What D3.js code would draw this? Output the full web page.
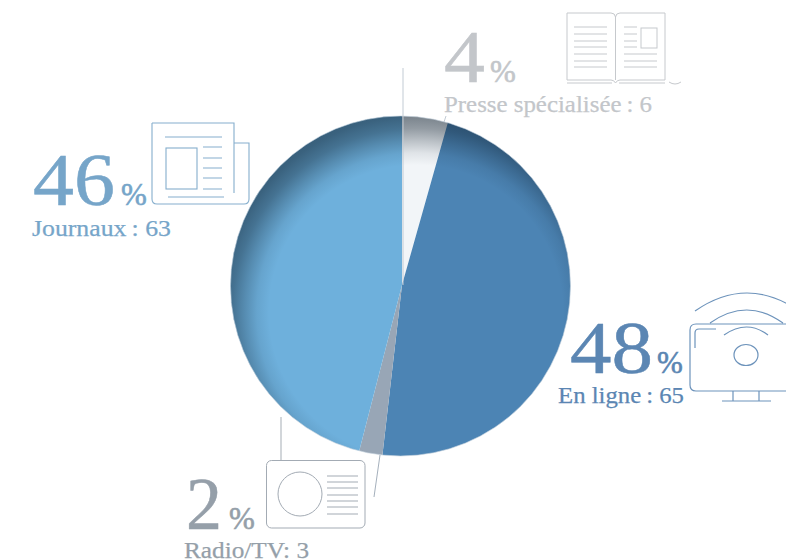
<!DOCTYPE html>
<html>
<head>
<meta charset="utf-8">
<script src="https://cdn.jsdelivr.net/npm/d3@7"></script>
<style>
html, body { margin: 0; padding: 0; background: #fff; overflow: hidden; }
text { font-family: "Liberation Serif", serif; }
</style>
</head>
<body>
<script>
var w = 786;
var h = 560;

var labels = ["Presse spécialisée\u2009: 6", "En ligne\u2009: 65", "Radio/TV: 3", "Journaux\u2009: 63"];
var counts = [6, 65, 3, 63];
var percents = ["4", "48", "2", "46"];

var sliceColors = ["#f2f5f8", "#4c84b4", "#98a6b6", "#6eb0dc"];
var textColors = ["#c3c6ca", "#5b86b3", "#959fa9", "#76a5c9"];

// x of number, width of number, x of %, x of label, width of label, baseline of number, baseline of label
var labelPos = [
    [444, 41, 490, 444, 208, 82, 112],
    [570, 83, 657, 558, 126, 373, 403],
    [186, 36, 229, 184, 125, 529, 558],
    [33, 82, 121, 32, 139, 205, 236]
];

var cx = 400.5, cy = 286, r = 170; // the disc
var vx = 402, vy = 285;            // where the slices meet

var svg = d3.select("body").append("svg").attr("width", w).attr("height", h).style("display", "block");

var defs = svg.append("defs");
defs.append("clipPath").attr("id", "disc")
    .append("circle").attr("cx", cx).attr("cy", cy).attr("r", r);

var shade = defs.append("radialGradient")
    .attr("id", "shade")
    .attr("gradientUnits", "userSpaceOnUse")
    .attr("cx", 416).attr("cy", 312).attr("r", 204);
[[0.72, 0], [0.78, 0.08], [0.84, 0.24], [0.9, 0.41], [0.96, 0.52], [1, 0.55]].forEach(s => {
    shade.append("stop").attr("offset", s[0]).attr("stop-color", "#0a1a28").attr("stop-opacity", s[1]);
});

var pie = d3.pie().sort(null).value(d => d);
var arc = d3.arc().innerRadius(0).outerRadius(r + 8);

var pieG = svg.append("g").attr("clip-path", "url(#disc)")
    .append("g").attr("transform", "translate(" + vx + "," + vy + ")");

pieG.selectAll("path")
    .data(pie(counts)).enter()
    .append("path")
    .attr("d", arc)
    .attr("fill", (d, i) => sliceColors[i]);

svg.append("circle") // the shadow on top of the slices
    .attr("cx", cx).attr("cy", cy).attr("r", r)
    .attr("fill", "url(#shade)")
    .attr("stroke", "#c3d0dc")
    .attr("stroke-width", 0.6);

// leader lines
var leaders = [
    [403, 68, 403, 285, "#c2cbd4"],
    [380, 455, 374, 497, "#a5b0bc"],
    [444, 122, 446, 116, "#c2cbd4"],
    [281, 417, 281, 461, "#a5adb5"]
];
svg.selectAll("line.leader")
    .data(leaders).enter()
    .append("line")
    .attr("class", "leader")
    .attr("x1", d => d[0]).attr("y1", d => d[1])
    .attr("x2", d => d[2]).attr("y2", d => d[3])
    .attr("stroke", d => d[4])
    .attr("stroke-width", 1);

// text
percents.forEach((p, i) => {
    var pos = labelPos[i];
    svg.append("text").text(p)
        .attr("x", pos[0]).attr("y", pos[5])
        .attr("font-size", 75)
        .attr("textLength", pos[1])
        .attr("lengthAdjust", "spacingAndGlyphs")
        .attr("fill", textColors[i])
        .attr("stroke", textColors[i])
        .attr("stroke-width", 0.5);
    svg.append("text").text("%")
        .attr("x", pos[2]).attr("y", pos[5])
        .attr("font-size", 31)
        .attr("fill", textColors[i])
        .attr("stroke", textColors[i])
        .attr("stroke-width", 0.6);
    svg.append("text").text(labels[i])
        .attr("x", pos[3]).attr("y", pos[6])
        .attr("font-size", 24)
        .attr("textLength", pos[4])
        .attr("lengthAdjust", "spacingAndGlyphs")
        .attr("fill", textColors[i])
        .attr("stroke", textColors[i])
        .attr("stroke-width", 0.25);
});

function hlines(x1, x2, ys) {
    return ys.map(y => "M" + x1 + "," + y + "H" + x2).join("");
}

function icon(color, sw) {
    return svg.append("g")
        .attr("fill", "none")
        .attr("stroke", color)
        .attr("stroke-width", sw);
}

// book
var book = icon("#c6c9cd", 1);
book.append("path").attr("d",
    "M567,13H611Q615,13 615.5,17Q616,13 620,13H665V80H620Q617,80 615.5,83Q614,80 611,80H567Z" +
    "M567,83H612M619,83H665M615.5,17V80" +
    "M669,82Q675,86 681,82" +
    hlines(574, 607, [27, 34, 41, 47, 54, 61, 67]) +
    hlines(624, 637, [27, 34, 41, 47]) +
    hlines(624, 657, [54, 61, 67]));
book.append("rect").attr("x", 641).attr("y", 28).attr("width", 16).attr("height", 20);

// newspaper
var paper = icon("#85aecd", 1.1);
paper.append("path").attr("d",
    "M152,123H234V193M234,143H249V199Q249,204 244,204H157Q152,204 152,199V123" +
    "M165,137H222M168,197H224" +
    hlines(203, 222, [147, 158, 168, 178, 189]));
paper.append("rect").attr("x", 166).attr("y", 148).attr("width", 31).attr("height", 41);

// screen
var tv = icon("#6d93bb", 1.2);
tv.append("path").attr("d",
    "M800,324H696Q690,324 690,330V385Q690,391 696,391H800" +
    "M695,348V333Q695,329 699,329H716" +
    "M695,311Q747,275 799,311" +
    "M710,323Q747,297 783,323" +
    "M724,335Q747,319 768,335" +
    "M733,391V401M759,391V401M722,401H771");
tv.append("ellipse").attr("cx", 746).attr("cy", 355).attr("rx", 12).attr("ry", 10.5);

// radio
var radio = icon("#a3abb4", 1);
radio.append("rect").attr("x", 266.5).attr("y", 460.5).attr("width", 98.5).attr("height", 67.5).attr("rx", 5);
radio.append("circle").attr("cx", 300).attr("cy", 494).attr("r", 22);
radio.append("path").attr("d", hlines(327, 358, [476, 482, 488, 495, 501, 507, 514]));
</script>
</body>
</html>
